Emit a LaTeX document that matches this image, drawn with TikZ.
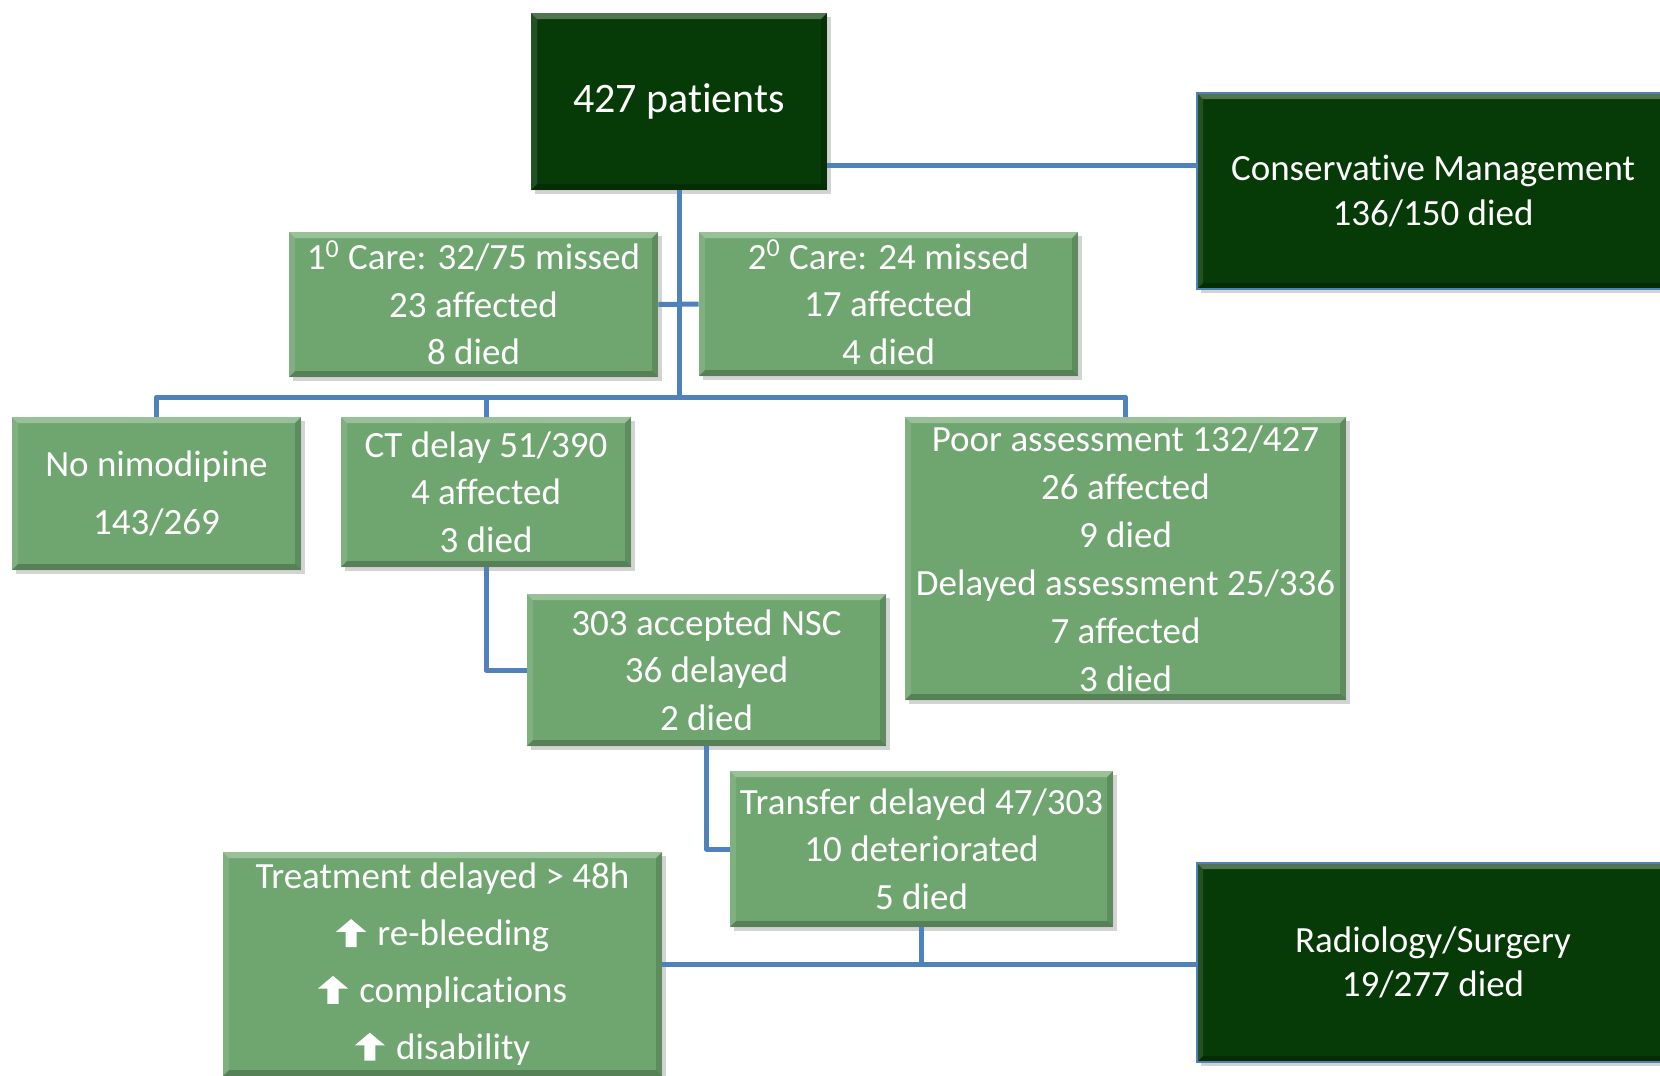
\documentclass[tikz,border=0pt]{standalone}
\usepackage{fontspec}
\setmainfont{Carlito}[Ligatures=NoCommon]
\usetikzlibrary{shadows}

\newlength{\px}
\setlength{\px}{0.5pt}

\definecolor{boxgreen}{RGB}{111,165,111}
\definecolor{darkgreen}{RGB}{6,58,6}
\definecolor{linkblue}{RGB}{79,129,189}

% bold white up arrow used in the treatment box
\newcommand{\up}{\tikz[baseline=0pt, x=1pt, y=1pt]\fill[white] (-7.6,6.8) -- (0,13.2) -- (7.6,6.8) -- (2.8,6.8)
  -- (2.8,-0.8) -- (-2.8,-0.8) -- (-2.8,6.8) -- cycle;\hspace{0.3em}}
\newcommand{\carelevel}[1]{#1\smash{\textsuperscript{0}}}

\tikzset{
  bevel/.style={path picture={
    \fill[white,opacity=.3] (path picture bounding box.north west) -- (path picture bounding box.north east)
      -- ([shift={(-3pt,-3pt)}]path picture bounding box.north east) -- ([shift={(3pt,-3pt)}]path picture bounding box.north west) -- cycle;
    \fill[white,opacity=.12] (path picture bounding box.north west) -- (path picture bounding box.south west)
      -- ([shift={(3pt,3pt)}]path picture bounding box.south west) -- ([shift={(3pt,-3pt)}]path picture bounding box.north west) -- cycle;
    \fill[black,opacity=.22] (path picture bounding box.south west) -- (path picture bounding box.south east)
      -- ([shift={(-3pt,3pt)}]path picture bounding box.south east) -- ([shift={(3pt,3pt)}]path picture bounding box.south west) -- cycle;
    \fill[black,opacity=.15] (path picture bounding box.north east) -- (path picture bounding box.south east)
      -- ([shift={(-3pt,3pt)}]path picture bounding box.south east) -- ([shift={(-3pt,-3pt)}]path picture bounding box.north east) -- cycle;
  }},
  box/.style={rectangle, fill=boxgreen, text=white, align=center, inner sep=0pt,
    font=\fontsize{18.5}{23.8}\selectfont,
    drop shadow={shadow xshift=2pt, shadow yshift=-2pt, opacity=.35}, bevel},
  darkbox/.style={box, fill=darkgreen},
  outcome/.style={darkbox, draw=linkblue, line width=1pt, font=\fontsize{18.5}{22.2}\selectfont},
  link/.style={draw=linkblue, line width=2.5pt, line join=round}
}

\begin{document}
\begin{tikzpicture}[x=0.5pt, y=-0.5pt]
\useasboundingbox (0,0) rectangle (1660,1076);

% top
\node[darkbox, minimum width=296\px, minimum height=177\px, font=\fontsize{21}{25}\selectfont] (pat) at (679,101.5) {427 patients};
\node[outcome, minimum width=472\px, minimum height=196\px] (cons) at (1433,191) {Conservative Management\\136/150 died};

% care
\node[box, minimum width=369\px, minimum height=145\px] (care1) at (473.5,304.5) {\carelevel{1} Care: 32/75 missed\\23 affected\\8 died};
\node[box, minimum width=379\px, minimum height=144\px] (care2) at (888.5,304) {\carelevel{2} Care: 24 missed\\17 affected\\4 died};

% second row
\node[box, minimum width=289\px, minimum height=153\px] (nimo) at (156.5,493.5) {No nimodipine\\[5pt]143/269};
\node[box, minimum width=290\px, minimum height=150\px] (ct) at (486,492) {CT delay 51/390\\4 affected\\3 died};
\node[box, minimum width=441\px, minimum height=283\px, font=\fontsize{18.5}{24}\selectfont] (assess) at (1125.5,558.5) {Poor assessment 132/427\\26 affected\\9 died\\Delayed assessment 25/336\\7 affected\\3 died};

% pathway
\node[box, minimum width=359\px, minimum height=152\px] (nsc) at (706.5,670) {303 accepted NSC\\36 delayed\\2 died};
\node[box, minimum width=383\px, minimum height=156\px] (transfer) at (921.5,849) {Transfer delayed 47/303\\10 deteriorated\\5 died};
\node[box, minimum width=439\px, minimum height=224\px] (treat) at (442.5,964) {Treatment delayed > 48h\\[4.6pt]\up re-bleeding\\[4.6pt]\up complications\\[4.6pt]\up disability};
\node[outcome, minimum width=472\px, minimum height=199\px] (radio) at (1433,962.5) {Radiology/Surgery\\19/277 died};

% links
\coordinate (mgmt) at ([yshift=-31.75pt]pat.east);
\coordinate (bar) at (679,397);
\draw[link] (mgmt) -- (mgmt -| cons.west);
\draw[link] (pat.south) -- (bar);
\draw[link] (care1.east) -- (care2.west);
\draw[link] (nimo.north) -- (nimo.north |- bar) -- (assess.north |- bar) -- (assess.north);
\draw[link] (ct.north) -- (ct.north |- bar);
\draw[link] (ct.south) |- (nsc.west);
\draw[link] (nsc.south) |- (transfer.west);
\draw[link] (treat.east) -- (treat.east -| radio.west);
\draw[link] (transfer.south) -- (transfer.south |- treat.east);
\end{tikzpicture}
\end{document}
